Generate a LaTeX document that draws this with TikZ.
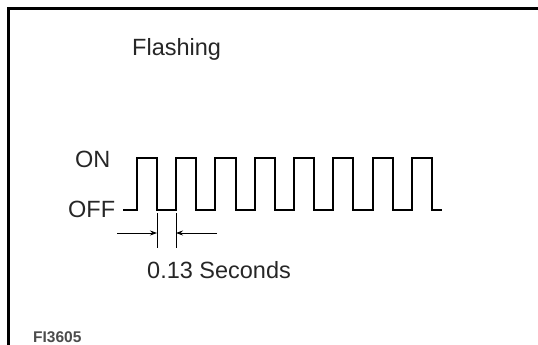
\documentclass[tikz,border=0pt]{standalone}
\usepackage{fontspec}
\setmainfont{Liberation Sans}
\usetikzlibrary{arrows.meta,positioning}

\begin{document}
\begin{tikzpicture}[x=1pt,y=-1pt,>={Stealth[length=7pt,width=5pt]},
  label/.style={inner sep=0pt,anchor=base west,font=\fontsize{23.5}{28}\selectfont,text=black!85},
  tag/.style={inner sep=0pt,anchor=base west,font=\fontsize{15.5}{18}\selectfont\bfseries,text=black!70},
  wave/.style={line width=2pt,line join=miter},
  dim/.style={line width=0.8pt}]
\useasboundingbox (0,0) rectangle (538,345);
% frame
\draw[line width=3pt] (8,345) -- (8,9) -- (538,9);
% labels
\node[label] (title) at (132,56) {Flashing};
\node[label] (on) at (75,167) {ON};
\node[label] (off) at (68,217) {OFF};
\node[label] (period) at (147,278) {0.13 Seconds};
\node[tag] (fig) at (33,342) {FI3605};
% signal
\draw[wave] (123,210) -- (137,210) -- (137,158) -- (157,158) -- (157,210)
  -- (176,210) -- (176,158) -- (196,158) -- (196,210)
  -- (215,210) -- (215,158) -- (236,158) -- (236,210)
  -- (255,210) -- (255,158) -- (275,158) -- (275,210)
  -- (294,210) -- (294,158) -- (314,158) -- (314,210)
  -- (333,210) -- (333,158) -- (353,158) -- (353,210)
  -- (373,210) -- (373,158) -- (393,158) -- (393,210)
  -- (412,210) -- (412,158) -- (432,158) -- (432,210) -- (442,210);
% dimension
\coordinate (tickA) at (157,233);
\coordinate (tickB) at (176,233);
\coordinate (leftend) at (117,233);
\coordinate (rightend) at (217,233);
\draw[dim] (157,213) -- (157,248);
\draw[dim] (176,213) -- (176,248);
\draw[dim,->] (leftend) -- (tickA);
\draw[dim,->] (rightend) -- (tickB);
\end{tikzpicture}
\end{document}
